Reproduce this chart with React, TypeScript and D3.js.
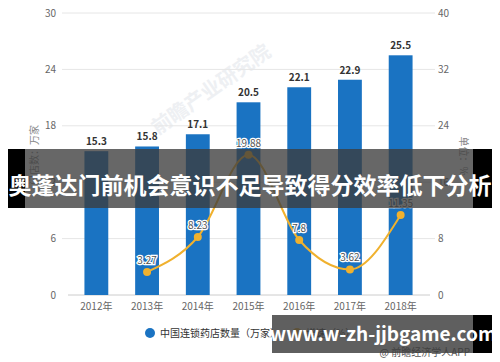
import React from 'react';
import * as d3 from 'd3';

const years = ['2012年', '2013年', '2014年', '2015年', '2016年', '2017年', '2018年'];
const storeCounts = [15.3, 15.8, 17.1, 20.5, 22.1, 22.9, 25.5];
const growthRates: (number | null)[] = [null, 3.27, 8.23, 19.88, 7.8, 3.62, 11.35];
const leftTicks = [0, 6, 12, 18, 24, 30];
const rightTicks = [0, 8, 16, 24, 32, 40];

const W = 500;
const H = 362;
const font = '"Noto Sans CJK SC", "Noto Sans", sans-serif';
const blue = '#1a73c2';
const gold = '#f0b12e';

export default function App() {
  const x = d3.scaleBand().domain(years).range([71, 426]).paddingInner(0.53).paddingOuter(0.265);
  const yL = d3.scaleLinear().domain([0, 30]).range([295, 13]);
  const yR = d3.scaleLinear().domain([0, 40]).range([295, 13]);
  const cx = (d: string) => (x(d) || 0) + x.bandwidth() / 2;

  const pts = years
    .map((y, i) => ({ y, v: growthRates[i] }))
    .filter((d) => d.v != null) as { y: string; v: number }[];
  const line = d3
    .line<{ y: string; v: number }>()
    .x((d) => cx(d.y))
    .y((d) => yR(d.v))
    .curve(d3.curveMonotoneX);

  return (
    <svg width={W} height={H} style={{ position: 'absolute', left: 0, top: 0, fontFamily: font }}>
      <rect width={W} height={H} fill="#fff" />
      {/* watermark */}
      <text x={215} y={95} transform="rotate(-35 215 95)" fontSize={20} fill="#eef0f3" textAnchor="middle" fontWeight="bold">
        前瞻产业研究院
      </text>
      {leftTicks.map((t) => (
        <g key={t}>
          {t > 0 && <line x1={62} x2={435} y1={yL(t)} y2={yL(t)} stroke="#e6e6e6" />}
          <text x={56} y={yL(t)} dy="0.35em" textAnchor="end" fontSize={10} fill="#666">
            {t}
          </text>
        </g>
      ))}
      {rightTicks.map((t) => (
        <text key={t} x={438} y={yR(t)} dy="0.35em" fontSize={10} fill="#666">
          {t}
        </text>
      ))}
      <line x1={68} x2={430} y1={yL(0)} y2={yL(0)} stroke="#ccc" />
      {years.map((y) => (
        <text key={y} x={cx(y)} y={310} textAnchor="middle" fontSize={10} fill="#666">
          {y}
        </text>
      ))}
      <text transform={`translate(38,155) rotate(-90)`} textAnchor="middle" fontSize={10} fill="#888">
        门店数：万家
      </text>
      <text transform={`translate(460,156) rotate(90)`} textAnchor="middle" fontSize={10} fill="#888">
        单位：%
      </text>
      {years.map((y, i) => (
        <g key={y}>
          <rect x={x(y)} y={yL(storeCounts[i])} width={x.bandwidth()} height={yL(0) - yL(storeCounts[i])} fill={blue} />
          <text x={cx(y)} y={yL(storeCounts[i]) - 6} textAnchor="middle" fontSize={10} fontWeight="bold" fill="#333">
            {storeCounts[i]}
          </text>
        </g>
      ))}
      <path d={line(pts) || ''} fill="none" stroke={gold} strokeWidth={2} />
      {pts.map((d) => (
        <g key={d.y}>
          <circle cx={cx(d.y)} cy={yR(d.v)} r={4} fill={gold} />
          <text
            x={cx(d.y)}
            y={yR(d.v) - 8}
            textAnchor="middle"
            fontSize={10}
            fill="#555"
            stroke="#fff"
            strokeWidth={2.5}
            paintOrder="stroke"
          >
            {d.v}
          </text>
        </g>
      ))}
      {/* legend */}
      <circle cx={150} cy={333} r={5} fill={blue} />
      <text x={160} y={333} dy="0.35em" fontSize={10} fill="#333">
        中国连锁药店数量（万家）
      </text>
      <circle cx={297} cy={333} r={5} fill={gold} />
      <text x={306} y={333} dy="0.35em" fontSize={10} fill="#333">
        增速（%）
      </text>
      <text x={470} y={356} textAnchor="end" fontSize={10} fill="#555">
        @ 前瞻经济学人APP
      </text>
      {/* title banner */}
      <rect x={8} y={149} width={17} height={59} fill="#000" />
      <rect x={25} y={149} width={448} height={59} fill="rgba(60,60,60,0.78)" />
      <rect x={473} y={149} width={19} height={59} fill="#000" />
      <text x={250} y={186} dy="0.35em" textAnchor="middle" fontSize={23} fontWeight="bold" fill="#fff">
        奥蓬达门前机会意识不足导致得分效率低下分析
      </text>
      {/* url banner */}
      <rect x={272} y={315} width={201} height={38} fill="rgba(60,60,60,0.82)" />
      <rect x={473} y={315} width={19} height={38} fill="#000" />
      <text x={383} y={334} dy="0.35em" textAnchor="middle" fontSize={19} fontWeight="bold" fill="#fff">
        www.w-zh-jjbgame.com
      </text>
    </svg>
  );
}
